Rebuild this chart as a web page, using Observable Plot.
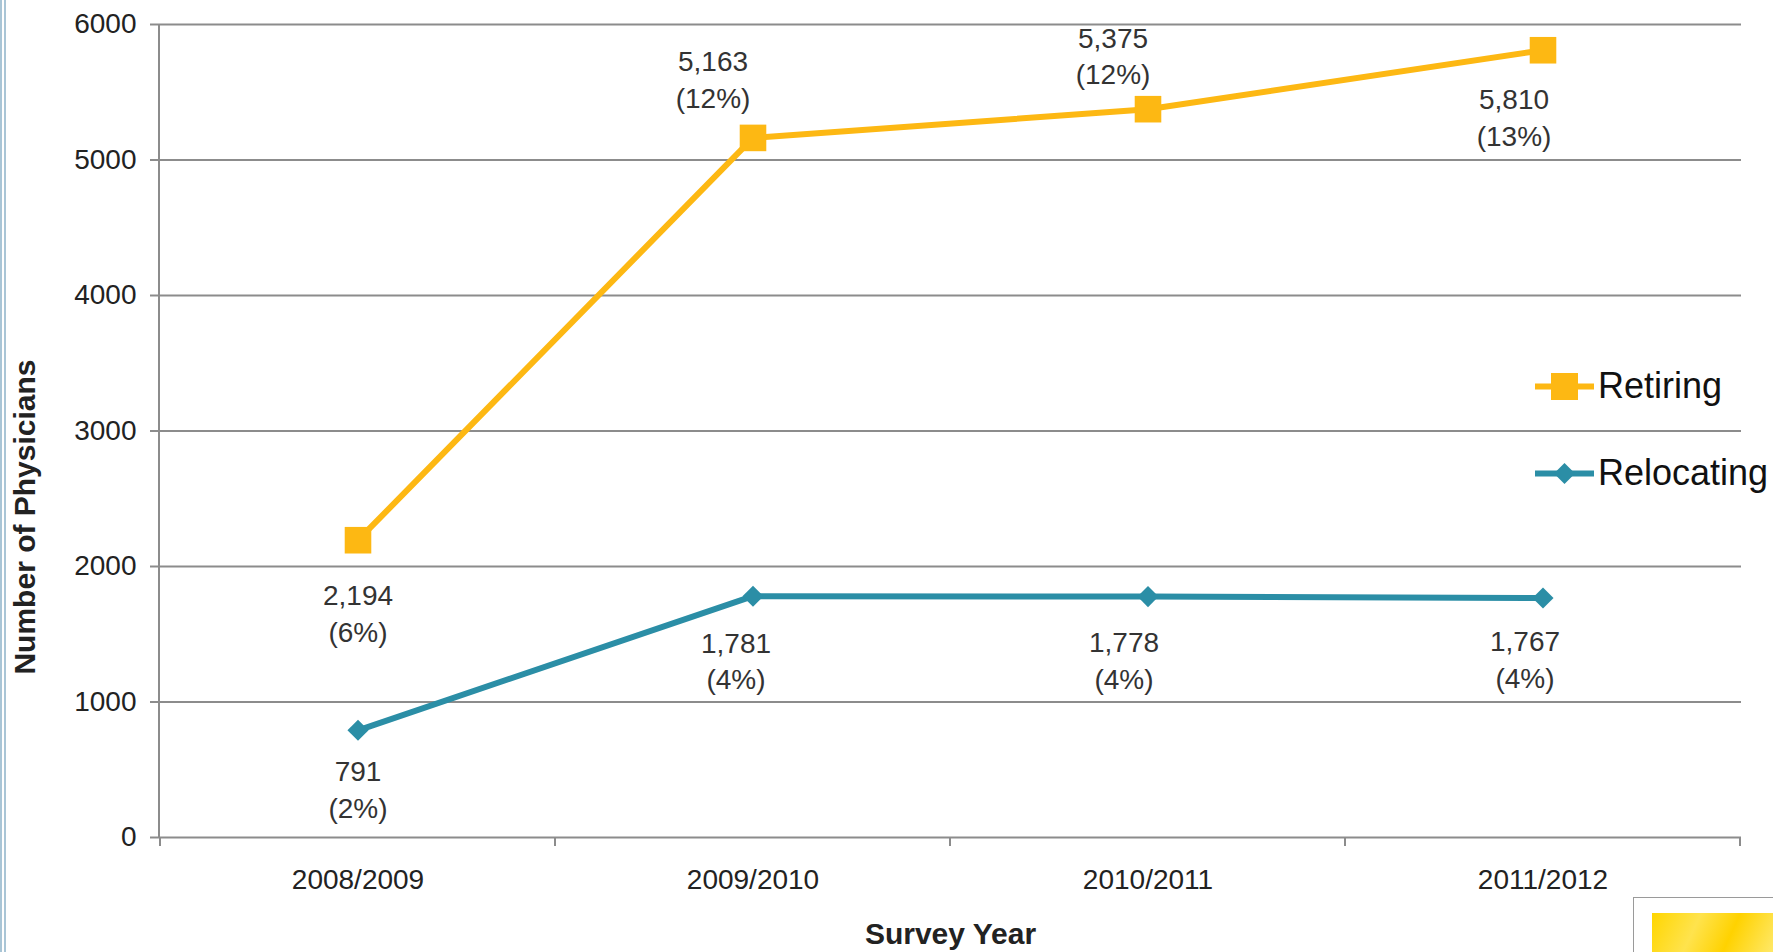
<!DOCTYPE html>
<html>
<head>
<meta charset="utf-8">
<script src="https://cdn.jsdelivr.net/npm/d3@7"></script>
<script src="https://cdn.jsdelivr.net/npm/@observablehq/plot@0.6"></script>
<style>
  html, body { margin: 0; padding: 0; background: #fff; }
  #wrap { position: relative; width: 1773px; height: 952px; overflow: hidden; font-family: "Liberation Sans", Arial, sans-serif; }
  #chart { position: absolute; left: 0; top: 0; }
  .stripe { position: absolute; top: 0; height: 952px; width: 2px; background: #a9c5d6; }
  .legend-item { position: absolute; display: flex; align-items: center; font-size: 36px; color: #111; white-space: nowrap; }
  .legend-item svg { display: block; margin-right: 4px; }
  #deco { position: absolute; left: 1633px; top: 897px; width: 160px; height: 80px; border: 1px solid #9a9a9a; background: #fff; }
  #deco div { position: absolute; left: 18px; top: 15px; width: 160px; height: 80px;
    background: linear-gradient(115deg, #ffd600 0%, #ffe34d 25%, #ffd200 45%, #ffe866 70%, #ffd500 100%); }
</style>
</head>
<body>
<div id="wrap">
  <div id="chart"></div>
</div>
<script>
// ---- data ----
const categories = ["2008/2009", "2009/2010", "2010/2011", "2011/2012"];
const retiring = [2194, 5163, 5375, 5810];
const retiringPct = [6, 12, 12, 13];
const relocating = [791, 1781, 1778, 1767];
const relocatingPct = [2, 4, 4, 4];
const yTicks = [0, 1000, 2000, 3000, 4000, 5000, 6000];
const seriesNames = ["Retiring", "Relocating"];

// ---- style ----
const colors = {Retiring: "#fdb813", Relocating: "#2b8ea6"};
const gridColor = "#8c8c8c";
const labelColor = "#333";
const fmt = d3.format(",");

const rows = [];
categories.forEach((c, i) => {
  rows.push({series: "Retiring", cat: c, value: retiring[i], pct: retiringPct[i], i});
  rows.push({series: "Relocating", cat: c, value: relocating[i], pct: relocatingPct[i], i});
});

// label offsets (px) relative to each point
const offsets = {
  Retiring: [[0, 71], [-40, -60], [-35, -55], [-29, 65]],
  Relocating: [[0, 57], [-17, 63], [-24, 62], [-18, 60]]
};

const labelMarks = rows.map(r => Plot.text([r], {
  x: "cat", y: "value",
  text: d => `${fmt(d.value)}\n(${d.pct}%)`,
  dx: offsets[r.series][r.i][0], dy: offsets[r.series][r.i][1],
  lineAnchor: "middle", lineHeight: 1.32,
  fontSize: 28, fill: labelColor
}));

// axis line + band-boundary ticks drawn from the scales
function axisFrame(index, scales, values, dims) {
  const g = d3.create("svg:g").attr("stroke", gridColor).attr("stroke-width", 2);
  const x = scales.x, y = scales.y;
  const step = x(categories[1]) - x(categories[0]);
  const bw = x.bandwidth ? x.bandwidth() : step;
  const start = x.bandwidth ? x(categories[0]) : x(categories[0]) - step / 2;
  const y0 = y(0);
  for (let k = 0; k <= categories.length; k++) {
    const px = start + k * bw;
    g.append("line").attr("x1", px).attr("x2", px).attr("y1", y0).attr("y2", y0 + 9);
  }
  g.append("line").attr("x1", dims.marginLeft).attr("x2", dims.marginLeft)
    .attr("y1", y(yTicks[yTicks.length - 1])).attr("y2", y0);
  return g.node();
}

const chart = Plot.plot({
  width: 1773,
  height: 952,
  marginLeft: 159,
  marginRight: 32,
  marginTop: 24,
  marginBottom: 115,
  style: {fontFamily: "Liberation Sans, Arial, sans-serif", background: "transparent"},
  x: {type: "band", domain: categories, padding: 0},
  y: {domain: [0, 6000]},
  marks: [
    Plot.gridY(yTicks, {stroke: gridColor, strokeOpacity: 1, strokeWidth: 2}),
    Plot.axisY({ticks: yTicks, tickFormat: d3.format("d"), tickSize: 9, tickPadding: 14, fontSize: 28, stroke: gridColor, strokeWidth: 2, fill: "#222", label: null}),
    Plot.axisX({tickSize: 0, tickPadding: 32, fontSize: 28, fill: "#222", label: null}),
    axisFrame,
    Plot.line(rows, {x: "cat", y: "value", z: "series", stroke: d => colors[d.series], strokeWidth: 6, strokeLinejoin: "miter"}),
    Plot.dot(rows.filter(d => d.series === "Retiring"), {x: "cat", y: "value", symbol: "square", r: 15, fill: colors.Retiring, stroke: "none"}),
    Plot.dot(rows.filter(d => d.series === "Relocating"), {x: "cat", y: "value", symbol: "diamond2", r: 9.5, fill: colors.Relocating, stroke: "none"}),
    ...labelMarks,
    Plot.text(["Survey Year"], {frameAnchor: "bottom", dy: 106, fontSize: 30, fontWeight: "bold", fill: "#222"}),
    Plot.text(["Number of Physicians"], {frameAnchor: "left", textAnchor: "middle", dx: -134, dy: 86, rotate: -90, fontSize: 30, fontWeight: "bold", fill: "#222"})
  ]
});
document.getElementById("chart").appendChild(chart);

// ---- overlays: legend, page decoration ----
const wrap = document.getElementById("wrap");
[0, 4].forEach(l => {
  const s = document.createElement("div");
  s.className = "stripe"; s.style.left = l + "px";
  wrap.appendChild(s);
});
const legendTops = {Retiring: 386, Relocating: 473};
seriesNames.forEach(name => {
  const item = document.createElement("div");
  item.className = "legend-item";
  item.style.left = "1535px";
  item.style.top = (legendTops[name] - 24) + "px";
  item.style.height = "48px";
  const marker = name === "Retiring"
    ? `<rect x="16" y="2" width="27" height="27" fill="${colors[name]}"/>`
    : `<path d="M29.5 5 L40 15.5 L29.5 26 L19 15.5 Z" fill="${colors[name]}"/>`;
  item.innerHTML = `<svg width="59" height="31"><line x1="0" x2="59" y1="15.5" y2="15.5" stroke="${colors[name]}" stroke-width="6"/>${marker}</svg><span>${name}</span>`;
  wrap.appendChild(item);
});
const deco = document.createElement("div");
deco.id = "deco";
deco.appendChild(document.createElement("div"));
wrap.appendChild(deco);
</script>
</body>
</html>
